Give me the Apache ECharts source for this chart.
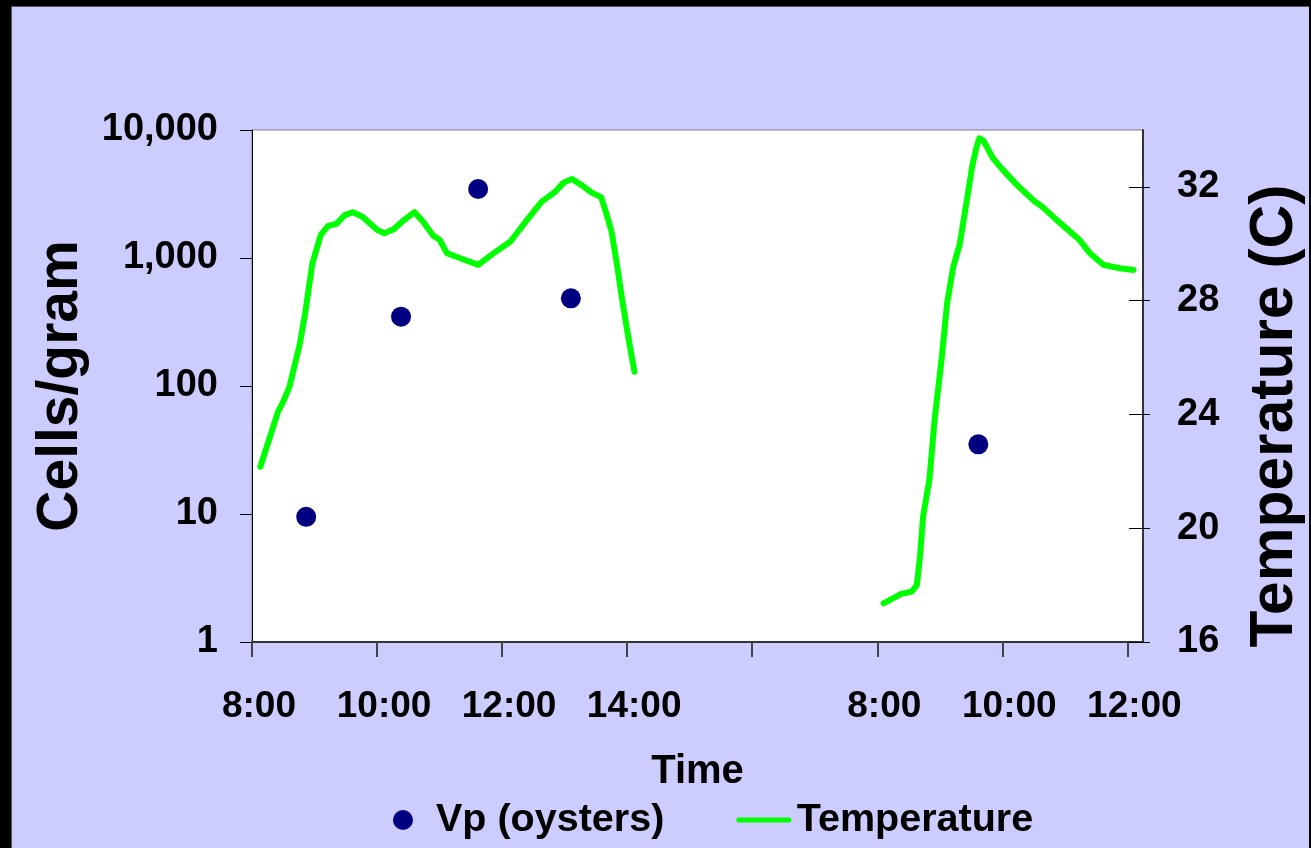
<!DOCTYPE html>
<html>
<head>
<meta charset="utf-8">
<script src="https://cdn.jsdelivr.net/npm/echarts@6/dist/echarts.min.js"></script>
<style>
  html, body { margin: 0; padding: 0; background: #000; width: 1311px; height: 848px; overflow: hidden; }
  #chart { position: absolute; left: 11px; top: 6px; width: 1298px; height: 842px; border-left: 1px solid #555; border-top: 1px solid #555; box-sizing: border-box; }
</style>
</head>
<body>
<div id="chart"></div>
<script>
// ---- data ----
const day1Times = ['8:08','8:25','8:30','8:36','8:46','8:51','8:58','9:06','9:13','9:21','9:29','9:37','9:46','10:00','10:07','10:16','10:25','10:36','10:44','10:54','11:00','11:07','11:20','11:37','11:52','12:08','12:24','12:38','12:51','12:59','13:07','13:16','13:26','13:35','13:40','13:45','13:50','13:55','14:01','14:07'];
const day1Temp  = [22.16,24.10,24.45,24.98,26.50,27.56,29.32,30.31,30.63,30.70,31.01,31.11,30.95,30.49,30.37,30.51,30.81,31.11,30.78,30.28,30.14,29.67,29.49,29.26,29.67,30.08,30.84,31.48,31.83,32.15,32.28,32.07,31.80,31.64,31.07,30.43,29.32,28.08,26.73,25.50];
const day2Times = ['8:06','8:23','8:33','8:38','8:41','8:44','8:50','8:55','9:02','9:07','9:13','9:19','9:26','9:31','9:35','9:38','9:42','9:51','9:59','10:14','10:30','10:39','10:52','11:14','11:24','11:37','11:53','12:06'];
const day2Temp  = [17.36,17.69,17.77,18.00,19.00,20.41,21.70,23.81,26.03,27.91,29.20,29.96,31.54,32.71,33.36,33.71,33.62,33.01,32.66,32.07,31.52,31.28,30.84,30.14,29.67,29.26,29.14,29.08];
const vpDays  = [1, 1, 1, 1, 2];
const vpTimes = ['8:52','10:23','11:37','13:06','9:37'];
const vpCells = [9.5, 348, 3460, 484, 35];
const tempTicks = [16, 20, 24, 28, 32];

// ---- category axis: one slot per minute, day 1 from 8:00, day 2 placed 10 h later ----
const DAY_START = 8 * 60, DAY2_SLOT = 600, LAST_SLOT = 855, TICK_EVERY = 120;
function toMin(t) { const p = t.split(':').map(Number); return p[0] * 60 + p[1]; }
function fmt(m) { return Math.floor(m / 60) + ':' + String(m % 60).padStart(2, '0'); }
function key(day, t) { return 'd' + day + ' ' + fmt(toMin(t)); }
const categories = [];
for (let i = 0; i <= LAST_SLOT; i++) {
  categories.push(i < DAY2_SLOT ? 'd1 ' + fmt(DAY_START + i) : 'd2 ' + fmt(DAY_START + i - DAY2_SLOT));
}
const tempDay1 = day1Times.map((t, i) => [key(1, t), day1Temp[i]]);
const tempDay2 = day2Times.map((t, i) => [key(2, t), day2Temp[i]]);
const vpData = vpTimes.map((t, i) => [key(vpDays[i], t), vpCells[i]]);

const FONT = '"Liberation Sans", Arial, Helvetica, sans-serif';
const GREEN = '#00FF00', NAVY = '#000080';
const chart = echarts.init(document.getElementById('chart'), null, { renderer: 'canvas' });
chart.setOption({
  backgroundColor: '#CCCCFF',
  animation: false,
  textStyle: { fontFamily: FONT },
  grid: {
    left: 240, top: 123, right: 166, bottom: 206,
    outerBoundsMode: 'none', containLabel: false,
    show: true, backgroundColor: '#FFFFFF', borderColor: '#808080', borderWidth: 1
  },
  legend: {
    data: [
      { name: 'Vp (oysters)' },
      { name: 'Temperature', itemStyle: { color: 'rgba(0,0,0,0)', borderWidth: 0 }, lineStyle: { width: 5 } }
    ],
    left: 376, top: 788,
    itemWidth: 50, itemHeight: 20, itemGap: 72,
    textStyle: { fontFamily: FONT, fontSize: 39.5, fontWeight: 'bold', color: '#000', padding: [0, 0, 0, 3] }
  },
  xAxis: {
    type: 'category',
    data: categories,
    boundaryGap: false,
    name: 'Time',
    nameLocation: 'middle',
    nameGap: 110,
    nameTextStyle: { fontFamily: FONT, fontSize: 40, fontWeight: 'bold', color: '#000' },
    axisLine: { lineStyle: { color: '#333', width: 2 } },
    axisTick: { interval: (i) => i % TICK_EVERY === 0, length: 15, lineStyle: { color: '#444', width: 2 } },
    axisLabel: {
      interval: (i) => i % TICK_EVERY === 0 && i !== 480,
      formatter: (v) => v.slice(3),
      fontFamily: FONT, fontSize: 37, fontWeight: 'bold', color: '#000',
      margin: 46, padding: [0, 0, 0, 14]
    },
    splitLine: { show: false }
  },
  yAxis: [
    {
      type: 'log', logBase: 10, min: 1, max: 10000, position: 'left',
      name: 'Cells/gram', nameLocation: 'middle', nameRotate: 90, nameGap: 162,
      nameTextStyle: { fontFamily: FONT, fontSize: 57, fontWeight: 'bold', color: '#000' },
      axisLine: { show: true, lineStyle: { color: '#000', width: 1 } },
      axisTick: { show: true, length: 12, lineStyle: { color: '#000', width: 1 } },
      axisLabel: {
        formatter: (v) => Number(v).toLocaleString('en-US'),
        fontFamily: FONT, fontSize: 38, fontWeight: 'bold', color: '#000', margin: 34
      },
      minorTick: { show: false },
      splitLine: { show: false }
    },
    {
      type: 'value', min: 16, max: 34, interval: 4, position: 'right',
      name: 'Temperature (C)', nameLocation: 'middle', nameRotate: 90, nameGap: 102,
      nameTextStyle: { fontFamily: FONT, fontSize: 60.5, fontWeight: 'bold', color: '#000', padding: [0, 60, 0, 0] },
      axisLine: { show: true, lineStyle: { color: '#333', width: 2 } },
      axisTick: { show: true, length: 7, customValues: tempTicks, lineStyle: { color: '#000', width: 1 } },
      axisLabel: { customValues: tempTicks, fontFamily: FONT, fontSize: 38, fontWeight: 'bold', color: '#000', margin: 34 },
      splitLine: { show: false }
    },
    {
      type: 'value', min: 16, max: 34, interval: 4, position: 'right',
      axisLine: { show: false },
      axisTick: { show: true, inside: true, length: 14, customValues: tempTicks, lineStyle: { color: '#000', width: 1 } },
      axisLabel: { show: false },
      splitLine: { show: false }
    }
  ],
  series: [
    {
      name: 'Temperature', type: 'line', yAxisIndex: 1, data: tempDay1,
      symbol: 'none', smooth: false,
      lineStyle: { color: GREEN, width: 6, cap: 'round', join: 'round' },
      itemStyle: { color: GREEN }
    },
    {
      name: 'Temperature', type: 'line', yAxisIndex: 1, data: tempDay2,
      symbol: 'none', smooth: false,
      lineStyle: { color: GREEN, width: 6, cap: 'round', join: 'round' },
      itemStyle: { color: GREEN }
    },
    {
      name: 'Vp (oysters)', type: 'scatter', yAxisIndex: 0, data: vpData,
      symbol: 'circle', symbolSize: 20,
      itemStyle: { color: NAVY, opacity: 1 }
    }
  ]
});
</script>
</body>
</html>
